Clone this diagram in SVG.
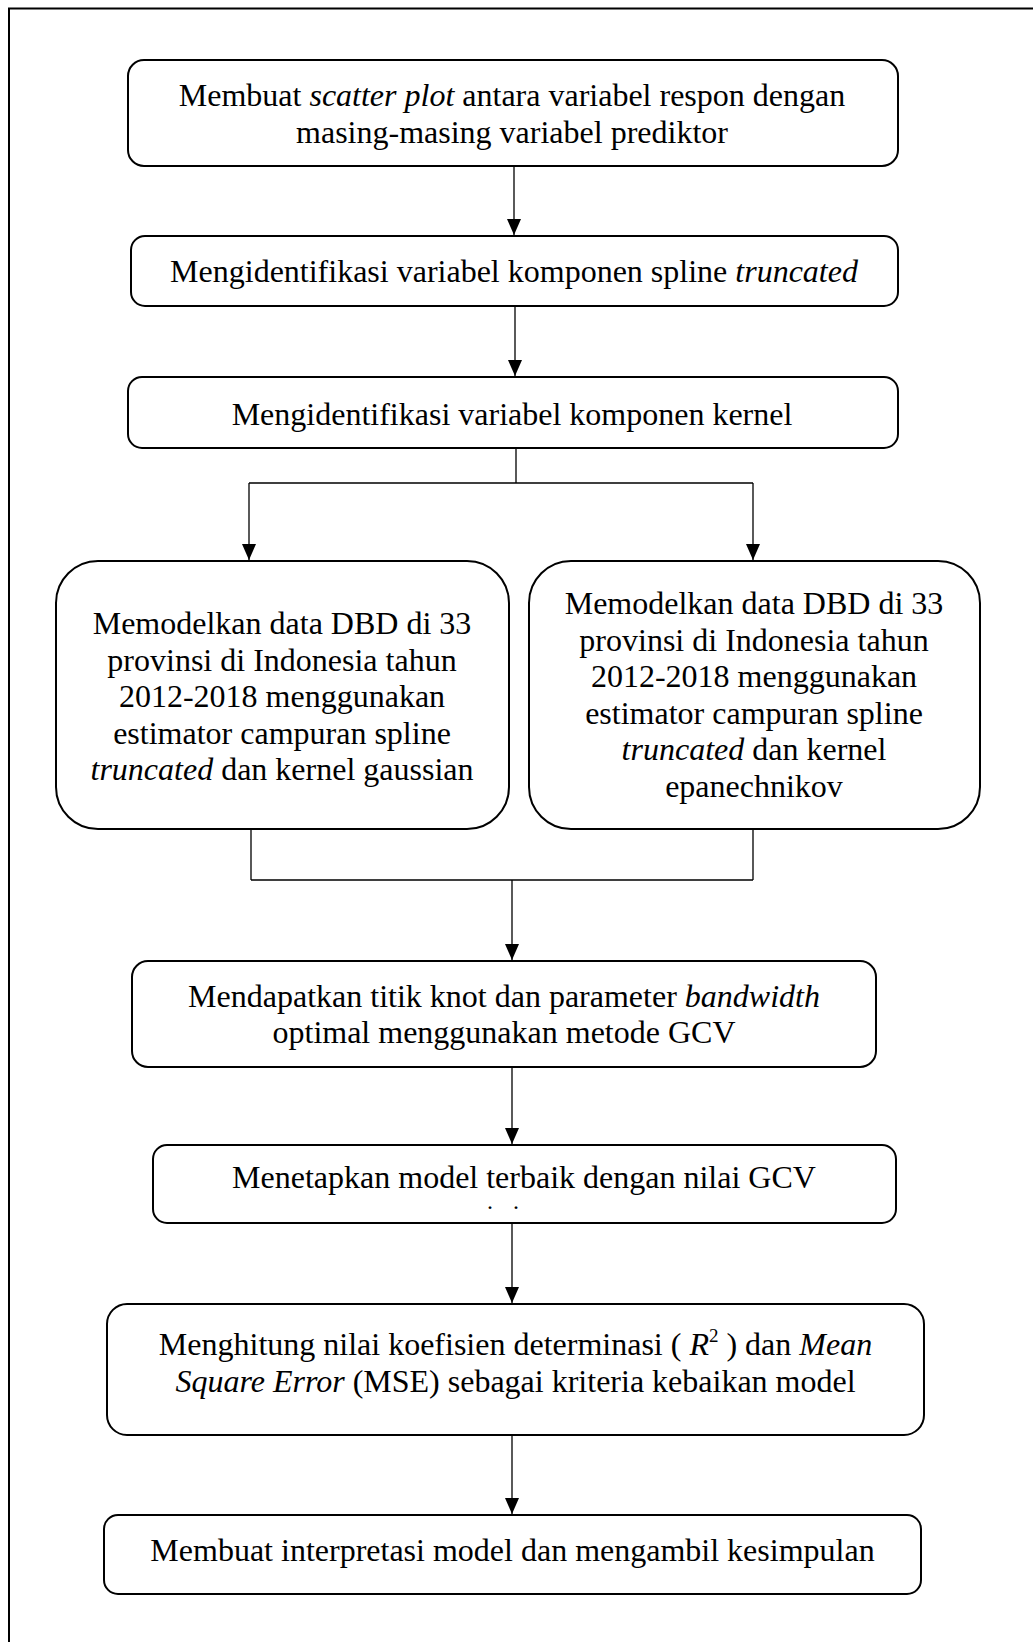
<svg xmlns="http://www.w3.org/2000/svg" width="1033" height="1642" viewBox="0 0 1033 1642">
<style>
.box{fill:#fff;stroke:#000;stroke-width:2}
.t{font-family:"Liberation Serif","Times New Roman",serif;font-size:32px;fill:#000;text-anchor:middle}
.i{font-style:italic}
.c{fill:none;stroke:#000;stroke-width:1.3}
.frame{fill:none;stroke:#000;stroke-width:2}
</style>
<defs>
<marker id="ah" markerUnits="userSpaceOnUse" viewBox="0 0 16 14" refX="16" refY="7" markerWidth="16" markerHeight="14" orient="auto">
<path d="M0,0 L16,7 L0,14 z" fill="#000"/>
</marker>
</defs>
<rect width="1033" height="1642" fill="#fff"/>
<path class="frame" d="M9,1642 V8.5 H1033"/>
<g id="connectors">
<path class="c" d="M514,166 V235" marker-end="url(#ah)"/>
<path class="c" d="M515,306 V376" marker-end="url(#ah)"/>
<path class="c" d="M516,448 V483 M249,483 H753"/>
<path class="c" d="M249,483 V560" marker-end="url(#ah)"/>
<path class="c" d="M753,483 V560" marker-end="url(#ah)"/>
<path class="c" d="M251,829 V880 M753,829 V880 M251,880 H753"/>
<path class="c" d="M512,880 V960" marker-end="url(#ah)"/>
<path class="c" d="M512,1067 V1144" marker-end="url(#ah)"/>
<path class="c" d="M512,1223 V1303" marker-end="url(#ah)"/>
<path class="c" d="M512,1435 V1514" marker-end="url(#ah)"/>
</g>
<g id="n1">
<rect class="box" x="128" y="60" width="770" height="106" rx="16"/>
<text class="t" x="512" y="106">Membuat <tspan class="i">scatter plot</tspan> antara variabel respon dengan</text>
<text class="t" x="512" y="143">masing-masing variabel prediktor</text>
</g>
<g id="n2">
<rect class="box" x="131" y="236" width="767" height="70" rx="14"/>
<text class="t" x="514" y="282">Mengidentifikasi variabel komponen spline <tspan class="i">truncated</tspan></text>
</g>
<g id="n3">
<rect class="box" x="128" y="377" width="770" height="71" rx="14"/>
<text class="t" x="512" y="425">Mengidentifikasi variabel komponen kernel</text>
</g>
<g id="n4">
<rect class="box" x="56" y="561" width="453" height="268" rx="42"/>
<text class="t" x="282" y="634">Memodelkan data DBD di 33</text>
<text class="t" x="282" y="670.5">provinsi di Indonesia tahun</text>
<text class="t" x="282" y="707">2012-2018 menggunakan</text>
<text class="t" x="282" y="743.5">estimator campuran spline</text>
<text class="t" x="282" y="780"><tspan class="i">truncated</tspan> dan kernel gaussian</text>
</g>
<g id="n5">
<rect class="box" x="529" y="561" width="451" height="268" rx="42"/>
<text class="t" x="754" y="614">Memodelkan data DBD di 33</text>
<text class="t" x="754" y="650.5">provinsi di Indonesia tahun</text>
<text class="t" x="754" y="687">2012-2018 menggunakan</text>
<text class="t" x="754" y="723.5">estimator campuran spline</text>
<text class="t" x="754" y="760"><tspan class="i">truncated</tspan> dan kernel</text>
<text class="t" x="754" y="796.5">epanechnikov</text>
</g>
<g id="n6">
<rect class="box" x="132" y="961" width="744" height="106" rx="16"/>
<text class="t" x="504" y="1007">Mendapatkan titik knot dan parameter <tspan class="i">bandwidth</tspan></text>
<text class="t" x="504" y="1043">optimal menggunakan metode GCV</text>
</g>
<g id="n7">
<rect class="box" x="153" y="1145" width="743" height="78" rx="14"/>
<text class="t" x="524" y="1188">Menetapkan model terbaik dengan nilai GCV</text>
<text class="t" x="490" y="1209" style="font-size:24px">.</text>
<text class="t" x="516" y="1209" style="font-size:24px">.</text>
</g>
<g id="n8">
<rect class="box" x="107" y="1304" width="817" height="131" rx="20"/>
<text class="t" x="515.5" y="1355">Menghitung nilai koefisien determinasi ( <tspan class="i">R</tspan><tspan dy="-13" style="font-size:19px">2</tspan><tspan dy="13"> ) dan </tspan><tspan class="i">Mean</tspan></text>
<text class="t" x="515.5" y="1392"><tspan class="i">Square Error</tspan> (MSE) sebagai kriteria kebaikan model</text>
</g>
<g id="n9">
<rect class="box" x="104" y="1515" width="817" height="79" rx="14"/>
<text class="t" x="512.5" y="1561">Membuat interpretasi model dan mengambil kesimpulan</text>
</g>
</svg>
